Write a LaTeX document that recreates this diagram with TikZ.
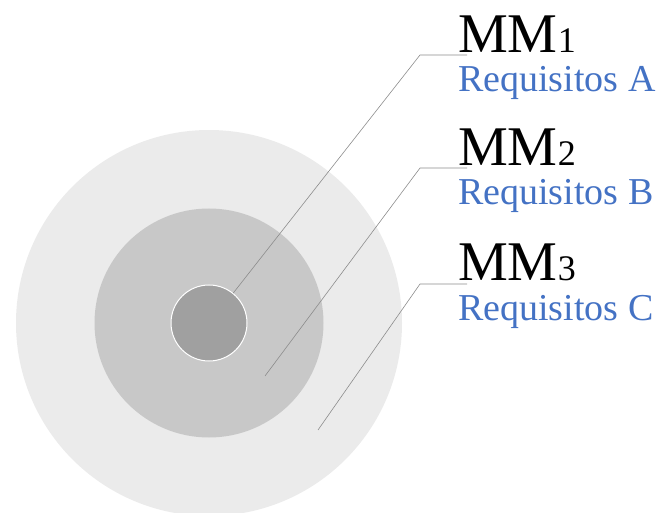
\documentclass[tikz,border=0pt]{standalone}
\usepackage{fontspec}
\setmainfont{Liberation Serif}
\definecolor{azulreq}{HTML}{4472C4}
\definecolor{grisA}{HTML}{A0A0A0}
\definecolor{grisB}{HTML}{C8C8C8}
\definecolor{grisC}{HTML}{EBEBEB}
\definecolor{grisL}{HTML}{8C8C8C}
\begin{document}
\begin{tikzpicture}[x=1pt, y=-1pt,
  disco/.style={circle, inner sep=0pt},
  nivel/.style={anchor=base west, inner sep=0pt, text=black, font=\fontsize{56}{56}\selectfont},
  req/.style={anchor=base west, inner sep=0pt, text=azulreq, font=\fontsize{38}{38}\selectfont},
  guia/.style={draw=grisL, line width=0.6pt}]
\useasboundingbox (0,0) rectangle (659,513);
% Circulos
\node [disco, fill=grisC, minimum size=386pt] (C3) at (209,323) {};
\node [disco, fill=grisB, minimum size=229pt] (C2) at (209,323) {};
\node [disco, fill=grisA, draw=white, line width=1pt, minimum size=76pt] (C1) at (209,323) {};
% Textos
\node [nivel] (MM1) at (458,53) {MM{\fontsize{36}{36}\selectfont 1}};
\node [req] (R1) at (458,92) {Requisitos A};
\node [nivel] (MM2) at (458,166) {MM{\fontsize{36}{36}\selectfont 2}};
\node [req] (R2) at (458,205) {Requisitos B};
\node [nivel] (MM3) at (458,281) {MM{\fontsize{36}{36}\selectfont 3}};
\node [req] (R3) at (458,320) {Requisitos C};
% Lineas
\coordinate (P2) at (265,376);
\coordinate (P3) at (318,430);
\coordinate (K1) at (420,55);
\coordinate (K2) at (420,168);
\coordinate (K3) at (420,284);
\coordinate (E1) at (467,55);
\coordinate (E2) at (467,168);
\coordinate (E3) at (467,284);
\path [guia] (C1.51) -- (K1) -- (E1);
\path [guia] (P2) -- (K2) -- (E2);
\path [guia] (P3) -- (K3) -- (E3);
\end{tikzpicture}
\end{document}
